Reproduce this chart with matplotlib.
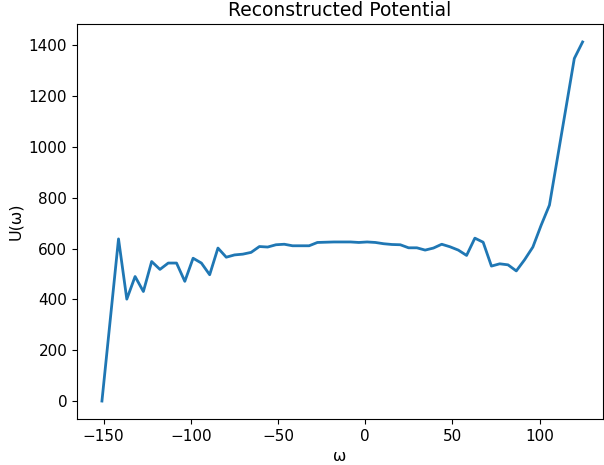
import numpy as np
import matplotlib
matplotlib.use("Agg")
import matplotlib.pyplot as plt

omega = np.linspace(-151, 124.6, 59)
U = [0, 319, 638, 401, 490, 431, 549, 518, 543, 543,
     471, 562, 543, 497, 602, 566, 575, 578, 585, 608,
     606, 615, 617, 611, 611, 611, 624, 625, 626, 626,
     626, 624, 626, 624, 619, 616, 615, 603, 603, 594,
     602, 617, 607, 594, 573, 641, 625, 531, 540, 536,
     512, 556, 606, 692, 771, 963, 1155, 1348, 1413]

fig = plt.figure(figsize=(6.04, 4.65), dpi=100)
ax = fig.add_axes([77/604, 46/465, 526/604, 395/465])
ax.plot(omega, U, color="#1f77b4", linewidth=2)
ax.set_title("Reconstructed Potential", fontsize=13.5)
ax.set_xlabel("ω", fontsize=11.5, labelpad=4)
ax.set_ylabel("U(ω)", fontsize=11.5)
ax.tick_params(labelsize=11)
ax.set_xlim(-165.3, 136.3)
ax.set_xticks([-150, -100, -50, 0, 50, 100])
ax.set_yticks([0, 200, 400, 600, 800, 1000, 1200, 1400])
fig.savefig("out.png", dpi=100)
